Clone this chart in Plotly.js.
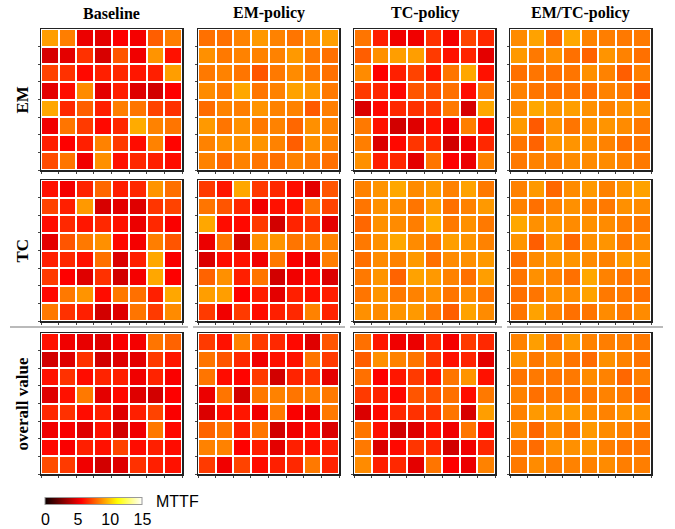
<!DOCTYPE html>
<html>
<head>
<meta charset="utf-8">
<script src="https://cdn.plot.ly/plotly-3.0.1.min.js"></script>
<style>html,body{margin:0;padding:0;background:#fff;}#chart{width:675px;height:529px;}</style>
</head>
<body>
<div id="chart"></div>
<script>
const policies = ["Baseline", "EM-policy", "TC-policy", "EM/TC-policy"];
const metrics = ["EM", "TC", "overall value"];
const colorTicks = [0, 5, 10, 15];
const colorTitle = "MTTF";

// rows listed top to bottom
const baselineEM = [
  [9.1,8.4,5.2,5.0,5.6,5.4,7.7,8.4],
  [4.7,5.0,6.7,4.7,7.5,5.3,8.9,6.0],
  [7.1,6.7,5.8,6.3,6.5,6.1,6.3,9.1],
  [5.0,5.9,8.7,5.0,6.3,4.9,4.6,5.6],
  [9.3,6.5,7.7,6.3,8.4,8.2,7.1,6.7],
  [5.3,8.2,6.9,5.8,6.5,9.4,8.5,8.2],
  [6.3,5.6,6.3,8.5,6.9,5.9,8.5,5.7],
  [7.3,8.2,5.3,8.8,6.0,6.5,6.3,5.9]
];
const emPolicyEM = [
  [8.1,8.1,8.5,9.0,8.5,8.2,8.7,9.1],
  [8.8,8.3,8.5,8.5,8.5,9.0,8.3,8.1],
  [8.3,8.5,8.2,7.5,8.3,8.7,8.3,8.1],
  [8.7,8.3,9.3,8.2,8.5,9.2,9.0,8.3],
  [8.0,8.5,8.4,8.9,8.5,8.5,7.6,8.4],
  [9.0,8.2,8.8,8.3,8.5,7.9,8.8,8.5],
  [8.5,8.8,8.8,8.9,8.5,7.7,8.8,8.5],
  [8.5,7.9,8.5,8.2,8.1,8.5,8.3,8.1]
];
const tcPolicyEM = [
  [8.2,6.3,5.3,5.3,6.7,5.4,7.1,6.5],
  [7.7,8.8,9.1,9.1,6.9,6.0,6.4,5.0],
  [8.7,5.6,6.3,7.1,6.1,8.2,9.3,6.0],
  [6.9,6.5,5.8,7.5,7.4,8.1,5.9,8.3],
  [4.8,5.8,6.5,6.7,6.9,8.3,4.7,9.3],
  [8.3,6.0,4.6,4.9,6.0,5.3,8.4,6.0],
  [8.4,4.8,5.8,6.8,6.5,4.6,5.3,6.5],
  [8.8,6.3,6.5,5.0,8.2,5.6,5.2,8.5]
];
const emTcPolicyEM = [
  [8.7,9.2,7.9,9.3,8.5,8.4,8.3,8.3],
  [9.0,8.3,8.8,8.1,7.8,8.9,8.5,8.1],
  [8.1,8.2,8.1,8.2,8.8,8.5,7.7,8.4],
  [8.5,8.2,8.1,8.2,8.1,8.5,8.3,7.6],
  [8.7,9.3,8.9,9.1,8.8,8.5,8.8,8.8],
  [9.0,7.6,8.8,8.2,8.8,8.9,8.7,8.3],
  [8.2,7.8,8.9,8.9,8.8,8.5,8.1,8.2],
  [8.3,8.5,8.4,8.7,8.7,8.7,8.5,8.3]
];
const baselineTC = [
  [6.0,5.4,6.4,7.9,6.3,6.5,8.9,8.1],
  [7.1,6.3,9.0,4.7,5.0,4.9,6.8,7.1],
  [5.9,6.5,6.1,6.5,6.0,5.2,6.5,5.5],
  [5.0,7.5,8.3,8.8,5.8,5.4,8.4,7.5],
  [6.3,6.5,6.0,8.1,4.8,6.3,9.3,5.5],
  [6.9,5.6,4.9,6.7,4.6,5.4,9.3,5.6],
  [5.8,8.3,8.9,5.9,8.3,8.1,6.3,9.3],
  [8.3,6.7,6.3,4.6,4.9,8.2,6.9,8.7]
];
const emPolicyTC = [
  [6.9,6.1,9.3,6.9,6.5,5.9,5.0,7.5],
  [8.2,7.5,6.5,5.3,6.0,6.0,8.2,7.1],
  [9.3,5.9,5.8,6.9,4.6,6.4,6.7,5.0],
  [5.2,8.2,4.6,8.8,8.9,8.2,8.4,8.5],
  [4.8,5.9,6.0,5.3,8.3,5.5,5.2,8.4],
  [7.8,8.8,6.3,8.2,4.6,5.3,5.9,4.8],
  [9.1,9.1,5.6,6.3,5.0,6.3,6.0,6.3],
  [6.9,5.3,6.9,5.9,6.3,6.5,8.5,6.4]
];
const tcPolicyTC = [
  [8.5,8.9,9.3,8.7,9.0,8.5,9.2,8.3],
  [8.2,8.8,8.7,8.2,9.0,8.1,8.5,9.0],
  [7.9,8.8,8.7,8.4,9.4,8.3,8.8,8.3],
  [8.3,8.8,9.3,8.7,8.3,9.1,8.9,8.5],
  [8.1,8.7,8.5,9.0,8.1,8.7,8.8,9.0],
  [8.3,8.9,7.8,9.2,9.0,8.5,8.1,9.1],
  [8.2,8.9,8.3,8.5,8.8,8.2,8.7,8.2],
  [8.8,8.7,8.9,9.0,8.3,7.7,9.2,8.7]
];
const emTcPolicyTC = [
  [8.5,9.0,7.9,8.7,9.0,8.5,8.9,9.2],
  [8.5,8.1,8.5,8.8,8.5,8.3,8.8,8.7],
  [9.3,8.8,8.9,8.7,8.8,8.7,8.4,8.3],
  [8.9,7.7,8.9,7.9,8.8,8.9,8.3,8.7],
  [8.1,8.7,8.9,8.9,8.7,8.5,9.0,8.9],
  [8.2,8.8,8.5,8.1,9.3,8.5,8.2,8.4],
  [8.1,8.2,8.8,8.7,9.2,8.3,8.3,8.1],
  [8.2,9.2,8.5,8.1,8.2,8.7,8.3,8.7]
];
const baselineOverall = [
  [6.0,5.3,5.1,4.9,5.5,5.4,8.2,7.8],
  [4.6,4.9,6.7,4.6,4.9,5.0,6.9,6.1],
  [6.0,6.7,5.9,6.4,6.3,5.3,6.4,5.5],
  [4.9,6.0,8.3,5.0,5.8,4.9,4.6,5.6],
  [6.5,6.7,5.9,6.3,4.9,6.3,7.1,5.5],
  [5.3,5.5,4.9,6.0,4.6,5.3,8.3,5.8],
  [5.8,5.5,6.3,6.0,7.1,5.9,6.3,5.9],
  [7.3,6.9,5.3,4.6,4.9,6.7,6.3,6.0]
];
const emPolicyOverall = [
  [6.9,6.0,8.5,6.9,6.5,5.8,4.9,7.5],
  [8.2,7.5,6.5,5.3,6.0,6.0,8.2,6.9],
  [8.2,5.9,5.7,6.9,4.6,6.4,6.7,5.0],
  [5.2,8.2,4.6,8.3,8.5,8.2,8.4,8.3],
  [4.8,5.9,6.1,5.3,8.3,5.5,5.2,8.3],
  [7.8,8.2,6.3,8.2,4.6,5.3,5.9,4.8],
  [8.5,8.5,5.6,6.3,5.0,6.3,6.0,6.3],
  [6.9,5.3,7.1,5.9,6.3,6.5,8.3,6.4]
];
const tcPolicyOverall = [
  [8.1,6.1,5.3,5.2,6.5,5.4,6.9,6.5],
  [7.7,8.8,8.5,8.2,6.9,6.0,6.4,5.0],
  [8.1,5.6,6.1,6.9,6.1,8.2,8.9,6.0],
  [6.9,6.4,5.8,7.5,7.4,8.1,5.9,8.3],
  [4.8,5.8,6.5,6.7,6.8,8.2,4.7,9.1],
  [8.2,6.0,4.6,4.9,6.0,5.3,8.2,6.0],
  [8.3,4.8,5.8,6.8,6.5,4.6,5.3,6.5],
  [8.7,6.3,6.5,5.0,8.2,5.6,5.2,8.5]
];
const emTcPolicyOverall = [
  [8.5,9.1,8.2,9.0,8.5,8.4,8.4,8.3],
  [8.9,8.3,8.7,8.2,8.0,8.8,8.5,8.2],
  [8.2,8.3,8.2,8.3,8.7,8.5,7.9,8.4],
  [8.5,8.1,8.3,8.2,8.3,8.5,8.3,7.9],
  [8.5,9.0,8.9,9.0,8.7,8.5,8.8,8.8],
  [8.7,7.9,8.7,8.2,9.0,8.7,8.5,8.3],
  [8.2,8.0,8.8,8.8,8.9,8.4,8.2,8.2],
  [8.3,8.7,8.4,8.5,8.5,8.7,8.4,8.4]
];

const grids = [
  [baselineEM, emPolicyEM, tcPolicyEM, emTcPolicyEM],
  [baselineTC, emPolicyTC, tcPolicyTC, emTcPolicyTC],
  [baselineOverall, emPolicyOverall, tcPolicyOverall, emTcPolicyOverall]
];

const W = 675, H = 529;
const colLeft = [41, 198, 354, 510];
const cellW = 141;
const rowTop = [29, 180, 333];
const cellH = 141;

const hot = [
  [0, 'rgb(10,0,0)'],
  [0.375, 'rgb(255,0,0)'],
  [0.75, 'rgb(255,255,0)'],
  [1, 'rgb(255,255,255)']
];

const data = [];
const layout = {
  width: W, height: H,
  margin: {l: 0, r: 0, t: 0, b: 0},
  paper_bgcolor: '#fff', plot_bgcolor: '#fff',
  showlegend: false,
  annotations: [],
  shapes: []
};

let k = 0;
for (let r = 0; r < 3; r++) {
  for (let c = 0; c < 4; c++) {
    k++;
    const sfx = (k === 1 ? '' : String(k));
    const tr = {
      type: 'heatmap',
      z: grids[r][c],
      x: [0,1,2,3,4,5,6,7],
      y: [0,1,2,3,4,5,6,7],
      xaxis: 'x' + sfx,
      yaxis: 'y' + sfx,
      colorscale: hot,
      zmin: 0, zmax: 15,
      xgap: 2, ygap: 2,
      showscale: false,
      hoverinfo: 'z'
    };
    if (k === 1) {
      tr.showscale = true;
      tr.colorbar = {
        orientation: 'h',
        x: 94 / W, xanchor: 'center', xref: 'paper',
        y: 1 - 510 / H, yanchor: 'middle', yref: 'paper',
        len: 97, lenmode: 'pixels',
        thickness: 7, thicknessmode: 'pixels',
        tickmode: 'array',
        tickvals: colorTicks,
        ticktext: colorTicks.map(String),
        tickangle: 0,
        ticks: '',
        ticklabelposition: 'outside bottom',
        tickfont: {family: 'Liberation Sans, Arial, sans-serif', size: 16, color: '#000'},
        outlinecolor: '#999', outlinewidth: 1,
        xpad: 0, ypad: 0
      };
    }
    data.push(tr);
    const x0 = colLeft[c] / W, x1 = (colLeft[c] + cellW) / W;
    const y1 = 1 - rowTop[r] / H, y0 = 1 - (rowTop[r] + cellH) / H;
    layout['xaxis' + sfx] = {
      domain: [x0, x1], anchor: 'y' + sfx,
      range: [-0.5, 7.5], showgrid: false, zeroline: false,
      showline: true, mirror: true, linecolor: '#222', linewidth: 1.5,
      ticks: 'outside', ticklen: 2, tickcolor: '#444', tickwidth: 1,
      tickvals: [-0.5,0.5,1.5,2.5,3.5,4.5,5.5,6.5,7.5], showticklabels: false,
      fixedrange: true
    };
    layout['yaxis' + sfx] = {
      domain: [y0, y1], anchor: 'x' + sfx,
      range: [7.5, -0.5], showgrid: false, zeroline: false,
      showline: true, mirror: true, linecolor: '#222', linewidth: 1.5,
      ticks: 'outside', ticklen: 2, tickcolor: '#444', tickwidth: 1,
      tickvals: [0.5,1.5,2.5,3.5,4.5,5.5,6.5,7.5], showticklabels: false,
      fixedrange: true
    };
  }
}

// column titles
policies.forEach((p, i) => {
  layout.annotations.push({
    text: '<b>' + p + '</b>', xref: 'paper', yref: 'paper',
    x: (colLeft[i] + cellW / 2) / W, y: 1 - 13 / H,
    xanchor: 'center', yanchor: 'middle', showarrow: false,
    font: {family: 'Liberation Serif, Times New Roman, serif', size: 16, color: '#000'}
  });
});
// row labels
metrics.forEach((m, i) => {
  layout.annotations.push({
    text: '<b>' + m + '</b>', xref: 'paper', yref: 'paper',
    x: 22 / W, y: 1 - (rowTop[i] + cellH / 2) / H,
    xanchor: 'center', yanchor: 'middle', showarrow: false, textangle: -90,
    font: {family: 'Liberation Serif, Times New Roman, serif', size: 17, color: '#000'}
  });
});
// colorbar title
layout.annotations.push({
  text: colorTitle, xref: 'paper', yref: 'paper',
  x: 154 / W, y: 1 - 501 / H, xanchor: 'left', yanchor: 'middle', showarrow: false,
  font: {family: 'Liberation Sans, Arial, sans-serif', size: 16, color: '#000'}
});
// separator line between TC and overall rows
[[10, 188], [193, 345], [350, 502], [507, 663]].forEach(seg => {
  layout.shapes.push({
    type: 'line', xref: 'paper', yref: 'paper',
    x0: seg[0] / W, x1: seg[1] / W, y0: 1 - 327 / H, y1: 1 - 327 / H,
    line: {color: '#777', width: 1.2}
  });
});

Plotly.newPlot('chart', data, layout, {displayModeBar: false, staticPlot: true});
</script>
</body>
</html>
